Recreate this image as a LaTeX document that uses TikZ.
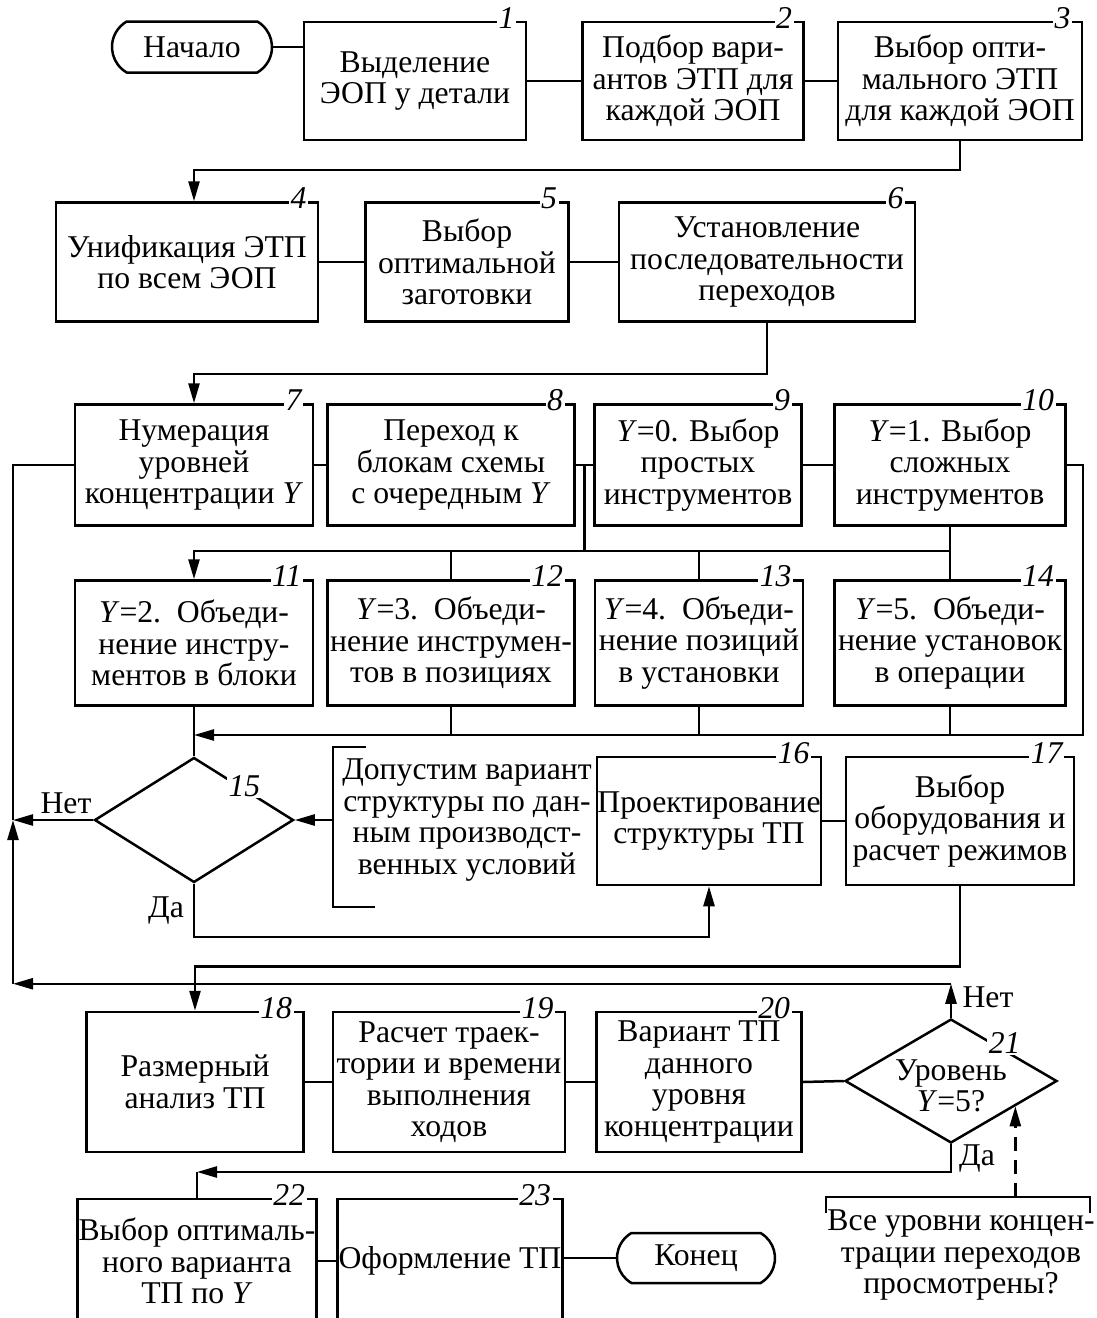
\documentclass[tikz,border=0pt]{standalone}
\usepackage{fontspec}
\setmainfont{Liberation Serif}
\usetikzlibrary{arrows.meta,shapes.misc,shapes.geometric,calc}
\newcommand{\shrift}{\fontsize{31.7}{31.5}\selectfont}

\begin{document}
\begin{tikzpicture}[
        x=1pt, y=-1pt,
        font=\shrift,
        line width=2.5pt,
        blok/.style={draw, align=center, inner xsep=0pt, inner ysep=2pt},
        romb/.style={draw, diamond, inner sep=0pt},
        oval/.style={draw, rounded rectangle, rounded rectangle arc length=120, inner sep=2pt},
        num/.style={font=\shrift\itshape, fill=white, inner sep=1.5pt, anchor=east},
        strelka/.style={-{Triangle[length=20pt,width=11pt]}},
        pitch/.style={dash pattern=on 14pt off 9pt},
    ]
    \useasboundingbox (0,0) rectangle (1097,1318);
    \clip (0,0) rectangle (1097,1318);

    % Ряд 1
    \node[oval, minimum width=164, minimum height=51] (nach) at (192,47) {Начало};
    \node[blok, minimum width=222, minimum height=118] (b1) at (415,81) {Выделение\\ЭОП у детали};
    \node[blok, minimum width=221, minimum height=118] (b2) at (693,81) {Подбор вари-\\антов ЭТП для\\каждой ЭОП};
    \node[blok, minimum width=244, minimum height=118] (b3) at (960,81) {Выбор опти-\\мального ЭТП\\для каждой ЭОП};

    % Ряд 2
    \node[blok, minimum width=262, minimum height=119] (b4) at (187,262) {Унификация ЭТП\\по всем ЭОП};
    \node[blok, minimum width=203, minimum height=119] (b5) at (467,262) {Выбор\\оптимальной\\заготовки};
    \node[blok, minimum width=296, minimum height=119] (b6) at (767,262) {Установление\\последовательности\\переходов};

    % Ряд 3
    \node[blok, minimum width=238, minimum height=121] (b7) at (194,465) {Нумерация\\уровней\\концентрации \textit{Y}};
    \node[blok, minimum width=247, minimum height=121] (b8) at (451,465) {Переход к\\блокам схемы\\с очередным \textit{Y}};
    \node[blok, minimum width=207, minimum height=121] (b9) at (698,465) {\textit{Y}=0. Выбор\\простых\\инструментов};
    \node[blok, minimum width=231, minimum height=121] (b10) at (950,465) {\textit{Y}=1. Выбор\\сложных\\инструментов};

    % Ряд 4
    \node[blok, minimum width=238, minimum height=125] (b11) at (194,643) {\textit{Y}=2.\ \ Объеди-\\нение инстру-\\ментов в блоки};
    \node[blok, minimum width=247, minimum height=125] (b12) at (451,643) {\textit{Y}=3.\ \ Объеди-\\нение инструмен-\\тов в позициях};
    \node[blok, minimum width=208, minimum height=125] (b13) at (699,643) {\textit{Y}=4.\ \ Объеди-\\нение позиций\\в установки};
    \node[blok, minimum width=231, minimum height=125] (b14) at (950,643) {\textit{Y}=5.\ \ Объеди-\\нение установок\\в операции};

    % Ряд 5
    \node[romb, minimum width=199, minimum height=125] (d15) at (194,820) {};
    \node[align=center] (k15) at (467,820) {Допустим вариант\\структуры по дан-\\ным производст-\\венных условий};
    \node[blok, minimum width=224, minimum height=128] (b16) at (709,821) {Проектирование\\структуры ТП};
    \node[blok, minimum width=228, minimum height=128] (b17) at (960,821) {Выбор\\оборудования и\\расчет режимов};

    % Ряд 6
    \node[blok, minimum width=217, minimum height=140] (b18) at (195,1082) {Размерный\\анализ ТП};
    \node[blok, minimum width=232, minimum height=140] (b19) at (449,1082) {Расчет траек-\\тории и времени\\выполнения\\ходов};
    \node[blok, minimum width=205, minimum height=140] (b20) at (699,1082) {Вариант ТП\\данного\\уровня\\концентрации};
    \node[romb, minimum width=212, minimum height=124] (d21) at (951,1081) {};
    \node[align=center] (t21) at (951,1086) {Уровень\\\textit{Y}=5?};

    % Ряд 7
    \node[blok, minimum width=239, minimum height=124] (b22) at (197,1261) {Выбор оптималь-\\ного варианта\\ТП по \textit{Y}};
    \node[blok, minimum width=225, minimum height=124] (b23) at (450,1261) {Оформление ТП};
    \node[oval, minimum width=162, minimum height=50] (kon) at (696,1258) {Конец};
    \node[align=center] (k21) at (961,1255) {Все уровни концен-\\трации переходов\\просмотрены?};

    % Номера блоков
    \foreach \n in {1,...,14,16,17,18,19,20,22,23} {
        \node[num] at ([xshift=-10pt,yshift=3pt]b\n.north east) {\n};
    }
    \node[num, anchor=center] at ([yshift=2pt]d15.north east) {15};
    \node[num, anchor=center] at ([yshift=6pt]d21.north east) {21};

    % Надписи у ветвлений
    \node (net15) at (66,803) {Нет};
    \node (da15) at (166,910) {Да};
    \node (net21) at (988,997) {Нет};
    \node (da21) at (977,1158) {Да};

    % Связи ряда 1 и 2
    \draw (nach.east) -- (nach.east -| b1.west);
    \draw (b1.east) -- (b2.west);
    \draw (b2.east) -- (b3.west);
    \coordinate (t1) at (194,170);
    \draw[strelka] (b3.south) |- (t1) -- (t1 |- b4.north);
    \draw (b4.east) -- (b5.west);
    \draw (b5.east) -- (b6.west);
    \coordinate (t2) at (194,374);
    \draw[strelka] (b6.south) |- (t2) -- (t2 |- b7.north);

    % Связи ряда 3 и 4
    \draw (b7.east) -- (b8.west);
    \draw (b8.east) -- (b9.west);
    \draw (b9.east) -- (b10.west);
    \coordinate (j89) at ($(b8.east)!0.5!(b9.west)$);
    \coordinate (s1) at (194,551);
    \draw[strelka] (b10.south) |- (s1) -- (b11.north);
    \draw (j89) -- (j89 |- s1);
    \draw (b14.north) -- (b10.south);
    \foreach \b in {b12,b13} {
        \draw (\b.north) -- (\b.north |- s1);
    }
    \coordinate (s2) at (194,735);
    \draw[strelka] (b10.east) -- ++(16,0) |- (s2);
    \foreach \b in {b12,b13,b14} {
        \draw (\b.south) -- (\b.south |- s2);
    }
    \draw (b11.south) -- (d15.north);

    % Ветвление 15 и комментарий
    \draw (366,747) -| (333,907) -- (375,907);
    \coordinate (kb15) at (333,820);
    \draw[strelka] (kb15) -- (d15.east);
    \coordinate (lev) at (13,820);
    \draw[strelka] (d15.west) -- (lev);
    \draw (lev) |- (b7.west);
    \draw[strelka] (d15.south) -- ++(0,53) -| (b16.south);
    \draw (b16.east) -- (b17.west);
    \draw[strelka] (b17.south) -- ++(0,80) -| (b18.north);

    % Ряд 6 и ветвление 21
    \draw (b18.east) -- (b19.west);
    \draw (b19.east) -- (b20.west);
    \draw (b20.east) -- (d21.west);
    \coordinate (v21) at ([yshift=34pt]d21.north);
    \draw[strelka] (d21.north) -- (v21);
    \draw[strelka] (v21) -- (v21 -| lev);
    \draw[strelka] (v21 -| lev) -- (lev);
    \coordinate (s3) at (197,1172);
    \draw[strelka] (d21.south) |- (s3);
    \draw (s3) -- (b22.north);

    % Комментарий к ветвлению 21
    \draw (826,1213) |- (1090,1197) -- (1090,1213);
    \coordinate (d21c) at ($(d21.south)!0.6!(d21.east)$);
    \coordinate (kb21) at (1013,1197);
    \draw[strelka, pitch] (d21c |- kb21) -- (d21c);

    % Ряд 7
    \draw (b22.east) -- (b23.west);
    \draw (kon.west -| b23.east) -- (kon.west);

\end{tikzpicture}
\end{document}
